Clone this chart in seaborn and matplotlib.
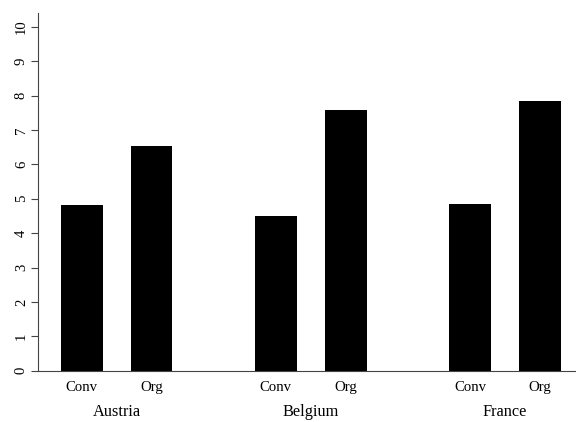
import numpy as np
import pandas as pd
import matplotlib
matplotlib.use("Agg")
import matplotlib.pyplot as plt
import seaborn as sns

# Data
countries = ["Austria", "Belgium", "France"]
types = ["Conv", "Org"]
conv_values = [4.82, 4.50, 4.84]
org_values = [6.53, 7.58, 7.84]
y_ticks = list(range(0, 11))

sns.set_theme(style="white")
plt.rcParams["font.family"] = ["Liberation Serif", "DejaVu Serif"]

# Layout positions (bar index spacing 1, groups spaced 2.783)
group_step = 2.783
rows = []
for g, c in enumerate(countries):
    for t, (tname, vals) in enumerate(zip(types, [conv_values, org_values])):
        rows.append({"pos": g * group_step + t, "value": vals[g],
                     "type": tname, "country": c})
df = pd.DataFrame(rows)

fig = plt.figure(figsize=(5.76, 4.22), dpi=100)
ax = fig.add_axes([37.7 / 576, 51.3 / 422, 1 - 37.7 / 576, (370.7 - 12.7) / 422])

sns.barplot(data=df, x="pos", y="value", native_scale=True, width=0.6,
            color="black", saturation=1, edgecolor="black", linewidth=0,
            errorbar=None, ax=ax)

ax.set_ylim(0, 10.41)
ax.set_xlim(-0.631, 7.085)

for s in ["top", "right"]:
    ax.spines[s].set_visible(False)
for s in ["left", "bottom"]:
    ax.spines[s].set_color("#444444")
    ax.spines[s].set_linewidth(0.8)

ax.set_yticks(y_ticks)
ax.set_yticklabels([str(v) for v in y_ticks], rotation=90, va="center")
ax.tick_params(axis="y", left=True, length=5.0, width=0.8, color="#444444",
               pad=2, labelsize=10.6, labelcolor="black")

ax.set_xticks(df["pos"].tolist())
ax.set_xticklabels(df["type"].tolist())
ax.tick_params(axis="x", bottom=False, length=0, pad=14.8, labelsize=10.6,
               labelcolor="black")
for lbl in ax.get_xticklabels():
    lbl.set_va("baseline")

for g, c in enumerate(countries):
    xc = g * group_step + 0.5
    ax.annotate(c, xy=(xc, 0), xycoords=("data", "axes fraction"),
                xytext=(0, -32.4), textcoords="offset points",
                ha="center", va="baseline", fontsize=11.8, color="black",
                annotation_clip=False)

ax.set_xlabel("")
ax.set_ylabel("")
ax.grid(False)

fig.savefig("out.png", dpi=100)
